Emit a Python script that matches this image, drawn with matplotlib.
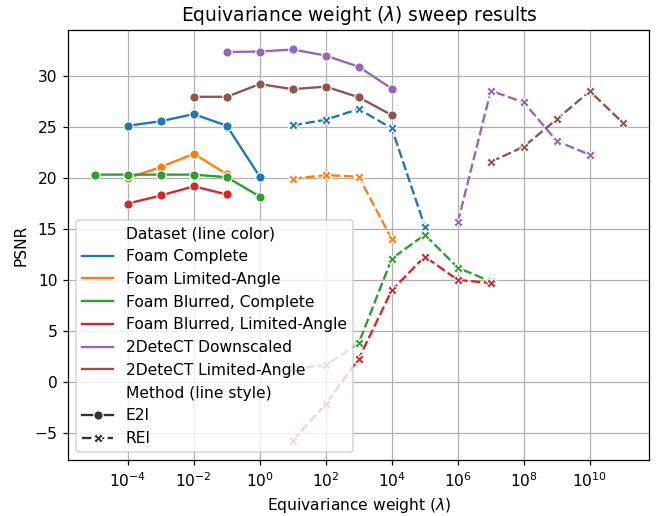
import matplotlib
matplotlib.use("Agg")
import matplotlib.pyplot as plt
import pandas as pd
import seaborn as sns

# ── data ──
datasets = ["Foam Complete", "Foam Limited-Angle", "Foam Blurred, Complete",
            "Foam Blurred, Limited-Angle", "2DeteCT Downscaled", "2DeteCT Limited-Angle"]
methods = ["E2I", "REI"]

# E2I (solid)
fc_e2i_lam = [1e-4, 1e-3, 1e-2, 1e-1, 1e0]
fc_e2i_psnr = [25.15, 25.6, 26.3, 25.15, 20.15]
fla_e2i_lam = [1e-4, 1e-3, 1e-2, 1e-1]
fla_e2i_psnr = [20.0, 21.1, 22.4, 20.4]
fbc_e2i_lam = [1e-5, 1e-4, 1e-3, 1e-2, 1e-1, 1e0]
fbc_e2i_psnr = [20.35, 20.35, 20.35, 20.35, 20.1, 18.2]
fbla_e2i_lam = [1e-4, 1e-3, 1e-2, 1e-1]
fbla_e2i_psnr = [17.5, 18.3, 19.2, 18.4]
dd_e2i_lam = [1e-1, 1e0, 1e1, 1e2, 1e3, 1e4]
dd_e2i_psnr = [32.4, 32.45, 32.65, 32.05, 30.95, 28.8]
dla_e2i_lam = [1e-2, 1e-1, 1e0, 1e1, 1e2, 1e3, 1e4]
dla_e2i_psnr = [28.0, 28.0, 29.25, 28.75, 29.0, 27.95, 26.2]

# REI (dashed)
fc_rei_lam = [1e1, 1e2, 1e3, 1e4, 1e5]
fc_rei_psnr = [25.2, 25.75, 26.8, 24.9, 15.25]
fla_rei_lam = [1e1, 1e2, 1e3, 1e4]
fla_rei_psnr = [19.95, 20.3, 20.15, 14.0]
fbc_rei_lam = [1e1, 1e2, 1e3, 1e4, 1e5, 1e6, 1e7]
fbc_rei_psnr = [1.3, 1.6, 3.8, 12.1, 14.45, 11.2, 9.85]
fbla_rei_lam = [1e1, 1e2, 1e3, 1e4, 1e5, 1e6, 1e7]
fbla_rei_psnr = [-5.8, -2.2, 2.25, 9.0, 12.3, 10.0, 9.7]
dd_rei_lam = [1e6, 1e7, 1e8, 1e9, 1e10]
dd_rei_psnr = [15.65, 28.6, 27.45, 23.65, 22.3]
dla_rei_lam = [1e7, 1e8, 1e9, 1e10, 1e11]
dla_rei_psnr = [21.6, 23.1, 25.8, 28.55, 25.45]

series = [
    (datasets[0], "E2I", fc_e2i_lam, fc_e2i_psnr),
    (datasets[1], "E2I", fla_e2i_lam, fla_e2i_psnr),
    (datasets[2], "E2I", fbc_e2i_lam, fbc_e2i_psnr),
    (datasets[3], "E2I", fbla_e2i_lam, fbla_e2i_psnr),
    (datasets[4], "E2I", dd_e2i_lam, dd_e2i_psnr),
    (datasets[5], "E2I", dla_e2i_lam, dla_e2i_psnr),
    (datasets[0], "REI", fc_rei_lam, fc_rei_psnr),
    (datasets[1], "REI", fla_rei_lam, fla_rei_psnr),
    (datasets[2], "REI", fbc_rei_lam, fbc_rei_psnr),
    (datasets[3], "REI", fbla_rei_lam, fbla_rei_psnr),
    (datasets[4], "REI", dd_rei_lam, dd_rei_psnr),
    (datasets[5], "REI", dla_rei_lam, dla_rei_psnr),
]

rows = []
for ds, m, lams, vals in series:
    for l, v in zip(lams, vals):
        rows.append({"lambda": l, "PSNR": v,
                     "Dataset (line color)": ds, "Method (line style)": m})
df = pd.DataFrame(rows)

# rendered a bit larger than 100 dpi so text/marks scale like the reference
DPI = 112
fig, ax = plt.subplots(figsize=(670 / DPI, 516 / DPI), dpi=DPI)
fig.subplots_adjust(left=0.102, right=0.969, top=0.942, bottom=0.108)

sns.lineplot(data=df, x="lambda", y="PSNR", hue="Dataset (line color)",
             style="Method (line style)", hue_order=datasets, style_order=methods,
             markers=True, estimator=None, ax=ax)

ax.set_xscale("log")
ax.grid(True)
ax.set_xlabel(r"Equivariance weight ($\lambda$)")
ax.set_ylabel("PSNR")
ax.set_title(r"Equivariance weight ($\lambda$) sweep results")
ax.legend(loc="lower left")

plt.savefig("out.png", dpi=DPI)
plt.close()
